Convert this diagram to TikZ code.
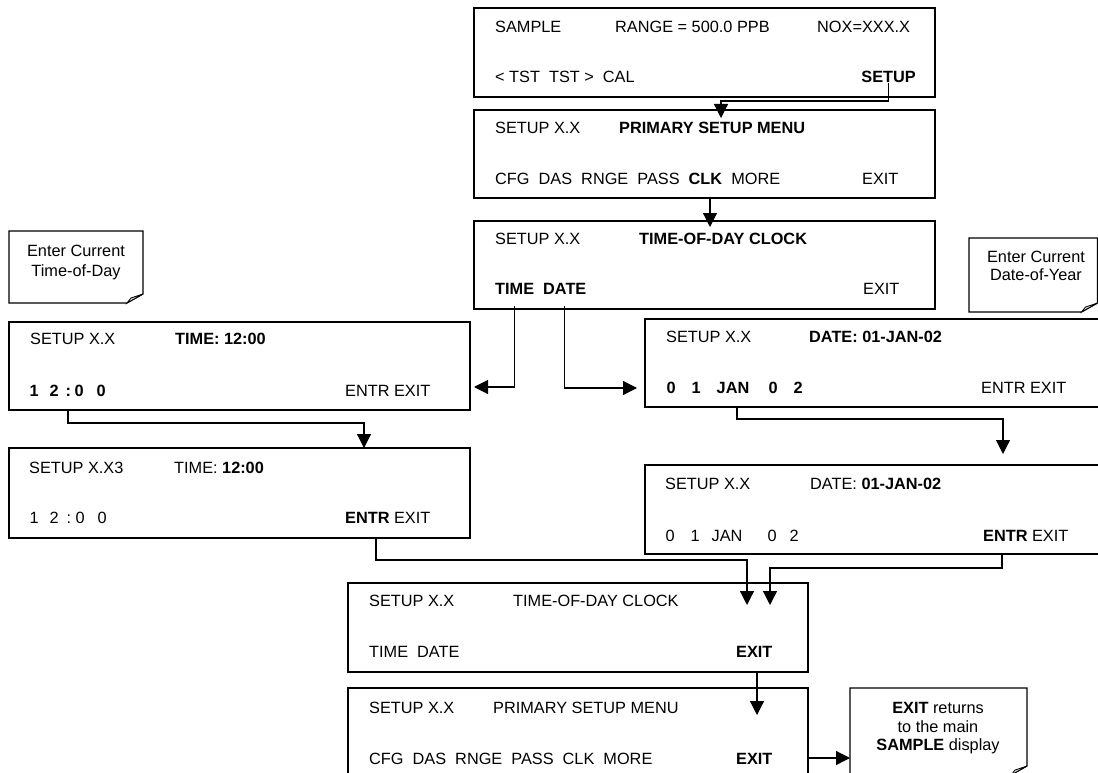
\documentclass[tikz,border=0pt]{standalone}
\usepackage{fontspec}
\setmainfont{Liberation Sans}
\usetikzlibrary{arrows.meta}
\newcommand\tok[2]{\makebox[0pt][l]{\hspace{#1pt}#2}}
\newcommand\notebox[4]{%
  \draw[notestyle] (#1,#2) -- (#3,#2) -- (#3,#4-9) -- (#3-16,#4) -- (#1,#4) -- cycle;
  \draw[flapstyle] (#3-16,#4) -- (#3,#4-9) -- (#3-12,#4-5) -- cycle;}
\begin{document}
\begin{tikzpicture}[x=1pt,y=-1pt,
  every node/.style={font=\fontsize{16.3}{20}\selectfont},
  scr/.style={draw, line width=1.4pt, inner sep=0pt, minimum width=461pt},
  txt/.style={anchor=base west, inner sep=0pt},
  ntxt/.style={anchor=base, inner sep=0pt},
  notestyle/.style={line width=1.2pt},
  flapstyle/.style={draw, line width=0.8pt, fill=gray!35},
  arr/.style={line width=1.2pt, -{Triangle[length=14pt,width=14pt]}}]
\useasboundingbox (0,0) rectangle (1098,773);
\clip (0,0) rectangle (1098,773);
\fill[white] (0,0) rectangle (1098,773);

% screens
\node[scr, minimum height=89pt] (b1) at (704.5,52.5) {};
\node[scr, minimum height=88pt] (b2) at (704.5,154) {};
\node[scr, minimum height=88pt] (b3) at (704.5,265) {};
\node[scr, minimum height=88pt] (bT1) at (239.5,366) {};
\node[scr, minimum height=90pt] (bT2) at (239.5,493) {};
\node[scr, minimum width=454pt, minimum height=88pt] (bD1) at (872,363) {};
\node[scr, minimum width=454pt, minimum height=89pt] (bD2) at (872,509.5) {};
\node[scr, minimum width=460pt, minimum height=89pt] (b7) at (578,627.5) {};
\node[scr, minimum width=460pt, minimum height=102pt] (b8) at (578,739) {};

% box 1
\node[txt] (s1a) at (495,33) {SAMPLE};
\node[txt] (s1b) at (615,33) {RANGE = 500.0 PPB};
\node[txt] (s1c) at (817,33) {NOX=XXX.X};
\node[txt] (s1d) at (495,83) {< TST\ \ TST >\ \ CAL};
\node[anchor=base east, inner sep=0pt] (setupkey) at (916,83) {\textbf{SETUP}};
% box 2
\node[txt] (s2a) at (495,134) {SETUP X.X};
\node[txt] (s2b) at (619,134) {\textbf{PRIMARY SETUP MENU}};
\node[txt] (s2c) at (495,184) {CFG\ \ DAS\ \ RNGE\ \ PASS\ \ \textbf{CLK}\ \ MORE};
\node[txt] (s2d) at (862,184) {EXIT};
% box 3
\node[txt] (s3a) at (495,244) {SETUP X.X};
\node[txt] (s3b) at (639,244) {\textbf{TIME-OF-DAY CLOCK}};
\node[txt] (timekey) at (495,294) {\textbf{TIME}};
\node[txt] (datekey) at (543,294) {\textbf{DATE}};
\node[txt] (s3c) at (863,294) {EXIT};

% time note
\notebox{9}{231}{143}{303}
\node[ntxt] (n1a) at (76,256) {Enter Current};
\node[ntxt] (n1b) at (76,276) {Time-of-Day};

% time box 1
\node[txt] (t1a) at (30,344) {SETUP X.X};
\node[txt] (t1b) at (175,344) {\textbf{TIME: 12:00}};
\node[txt] (t1c) at (29,396) {\bfseries\tok{0}{1}\tok{20}{2}\tok{36}{:}\tok{45}{0}\tok{67}{0}};
\node[txt] (t1d) at (345,396) {ENTR EXIT};
% time box 2
\node[txt] (t2a) at (29,473) {SETUP X.X3};
\node[txt] (t2b) at (174,473) {TIME: \textbf{12:00}};
\node[txt] (t2c) at (29,523) {\tok{0}{1}\tok{20}{2}\tok{37}{:}\tok{46}{0}\tok{68}{0}};
\node[txt] (t2d) at (345,523) {\textbf{ENTR} EXIT};

% date note
\notebox{969}{238}{1097.5}{312}
\node[ntxt] (n2a) at (1036,262) {Enter Current};
\node[ntxt] (n2b) at (1036,280) {Date-of-Year};

% date box 1
\node[txt] (d1a) at (666,342) {SETUP X.X};
\node[txt] (d1b) at (809,342) {\textbf{DATE: 01-JAN-02}};
\node[txt] (d1c) at (666,393) {\bfseries\tok{0}{0}\tok{25}{1}\tok{50}{JAN}\tok{102}{0}\tok{127}{2}};
\node[txt] (d1d) at (981,393) {ENTR EXIT};
% date box 2
\node[txt] (d2a) at (665,489) {SETUP X.X};
\node[txt] (d2b) at (810,489) {DATE: \textbf{01-JAN-02}};
\node[txt] (d2c) at (665,541) {\tok{0}{0}\tok{25}{1}\tok{46}{JAN}\tok{102}{0}\tok{124}{2}};
\node[txt] (d2d) at (983,541) {\textbf{ENTR} EXIT};

% box 7
\node[txt] (e1) at (369,606) {SETUP X.X};
\node[txt] (e2) at (513,606) {TIME-OF-DAY CLOCK};
\node[txt] (e3) at (369,657) {TIME\ \ DATE};
\node[txt] (e4) at (736,657) {\textbf{EXIT}};
% box 8
\node[txt] (f1) at (369,713) {SETUP X.X};
\node[txt] (f2) at (493,713) {PRIMARY SETUP MENU};
\node[txt] (f3) at (369,764) {CFG\ \ DAS\ \ RNGE\ \ PASS\ \ CLK\ \ MORE};
\node[txt] (f4) at (736,764) {\textbf{EXIT}};

% exit note
\notebox{850}{688}{1027}{775}
\node[ntxt] (n3a) at (938,713) {\textbf{EXIT} returns};
\node[ntxt] (n3b) at (938,732) {to the main};
\node[ntxt] (n3c) at (938,750) {\textbf{SAMPLE} display};

% connectors
\coordinate (c1) at (721,101); \coordinate (tip1) at (721,118);
\draw[arr] (setupkey.south) |- (c1) -- (tip1);
\coordinate (tip2) at (710,227);
\draw[arr] (b2.south -| tip2) -- (tip2);
\coordinate (tip3) at (474,387);
\draw[arr, shorten <=-4pt] (b3.south -| timekey) |- (tip3);
\coordinate (tip4) at (637,388);
\draw[arr, shorten <=-4pt] (b3.south -| datekey) |- (tip4);
\coordinate (c5) at (68,423); \coordinate (tip5) at (364,448);
\draw[arr] (bT1.south -| c5) -- (c5) -| (tip5);
\coordinate (c6) at (376,560); \coordinate (tip6) at (747,605);
\draw[arr] (bT2.south -| c6) -- (c6) -| (tip6);
\coordinate (c7) at (1002,568); \coordinate (tip7) at (770,605);
\draw[arr] (bD2.south -| c7) -- (c7) -| (tip7);
\coordinate (c8) at (737,419); \coordinate (tip8) at (1003,454);
\draw[arr] (bD1.south -| c8) -- (c8) -| (tip8);
\coordinate (tip9) at (757,715);
\draw[arr] (b7.south -| tip9) -- (tip9);
\coordinate (tip10) at (850,758);
\draw[arr] (b8.east |- tip10) -- (tip10);
\end{tikzpicture}
\end{document}
